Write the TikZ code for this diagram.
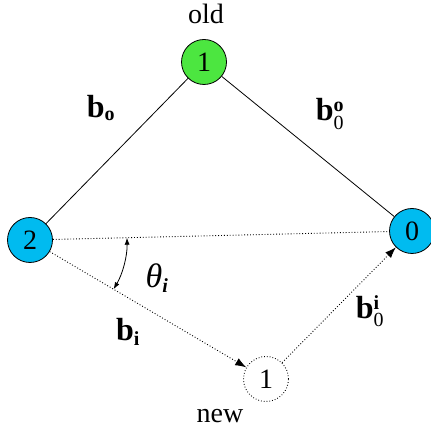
\documentclass[tikz,border=0pt]{standalone}
\usepackage{amsmath}
\usepackage{fontspec}
\setmainfont{Liberation Serif}
\DeclareMathSizes{28}{28}{19}{14}
\DeclareMathSizes{32}{32}{20}{14}
\DeclareMathSizes{34}{34}{20}{14}
\usetikzlibrary{arrows.meta,calc}
\definecolor{oldgreen}{RGB}{76,230,64}
\definecolor{vcyan}{RGB}{0,187,240}
\begin{document}
\begin{tikzpicture}[x=1pt,y=1pt,
  every node/.style={font=\fontsize{28}{32}\selectfont},
  vert/.style={circle,draw=black,line width=0.8pt,minimum size=45pt,inner sep=0pt},
  solidedge/.style={line width=0.8pt},
  dotedge/.style={line width=0.9pt,dotted},
  bigtip/.style={-{Latex[length=11pt,width=8pt]}},
  lbl/.style={inner sep=0pt,font=\fontsize{32}{36}\selectfont}]
\useasboundingbox (0,0) rectangle (430,435);
\node[vert,fill=oldgreen] (old) at (204,373) {1};
\node[vert,fill=vcyan] (two) at (30,195) {2};
\node[vert,fill=vcyan] (zero) at (412,204) {0};
\node[vert,dotted,line width=0.9pt] (new) at (266,56) {1};
\node[inner sep=0pt] (oldlbl) at (206,421) {old};
\node[inner sep=0pt] (newlbl) at (220,19) {new};
\draw[solidedge] (old) -- (two);
\draw[solidedge] (old) -- (zero);
\draw[dotedge] (two) -- (zero);
\draw[dotedge,bigtip] (two) -- (new);
\draw[dotedge,bigtip] (new) -- (zero);
\coordinate (arcstart) at ($(two.center)+(1.35:97)$);
\draw[line width=0.8pt,{Latex[length=7pt,width=5pt]}-{Latex[length=7pt,width=5pt]}] (arcstart) arc[start angle=1.35,end angle=-30.5,radius=97];
\node[lbl] (bo) at (101,327) {\textbf{b}$_{\textbf{o}}$};
\node[lbl] (boo) at (330,321) {\textbf{b}$_{\text{0}}^{\textbf{o}}$};
\node[lbl] (bi) at (128,103) {\textbf{b}$_{\textbf{i}}$};
\node[lbl] (boi) at (370,124) {\textbf{b}$_{\text{0}}^{\textbf{i}}$};
\node[lbl,font=\fontsize{34}{38}\selectfont] (theta) at (157,157) {\textit{θ}$_{\textbf{\textit{i}}}$};
\end{tikzpicture}
\end{document}
